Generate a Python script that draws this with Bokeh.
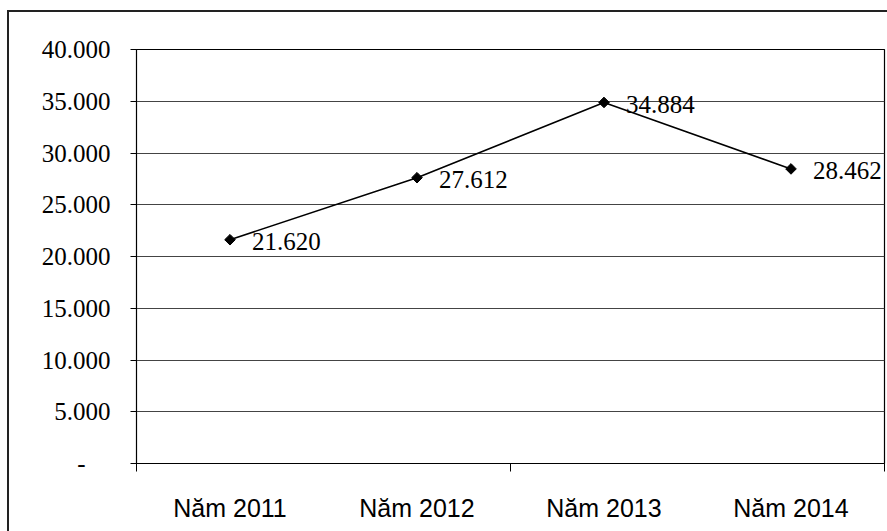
import math
from bokeh.plotting import figure
from bokeh.models import FixedTicker, Range1d, ColumnDataSource
from bokeh.core.properties import value
from bokeh.embed import file_html
from bokeh.resources import INLINE

# Data
years = ["Năm 2011", "Năm 2012", "Năm 2013", "Năm 2014"]
values = [21620, 27612, 34884, 28462]
value_labels = ["21.620", "27.612", "34.884", "28.462"]
y_ticks = [0, 5000, 10000, 15000, 20000, 25000, 30000, 35000, 40000]
y_tick_labels = ["-\u2007\u2007", "5.000", "10.000", "15.000", "20.000",
                 "25.000", "30.000", "35.000", "40.000"]

xpos = [i + 0.5 for i in range(len(years))]
src = ColumnDataSource(dict(x=xpos, y=values, lab=value_labels))

p = figure(width=878, height=519, output_backend="svg", toolbar_location=None,
           x_range=Range1d(0, len(years)), y_range=Range1d(0, 40000),
           min_border_left=127, min_border_top=37, min_border_bottom=68,
           min_border_right=3, margin=(12, 0, 0, 9))
p.styles = {"outline": "2px solid #222222", "outline-offset": "0px"}
p.background_fill_color = "white"
p.border_fill_color = "white"
p.outline_line_color = "black"
p.outline_line_width = 1.2

# Grid
p.xgrid.visible = False
p.ygrid.ticker = FixedTicker(ticks=y_ticks)
p.ygrid.grid_line_color = "#444444"
p.ygrid.grid_line_width = 1

# Y axis
p.yaxis.ticker = FixedTicker(ticks=y_ticks)
p.yaxis.major_label_overrides = {t: l for t, l in zip(y_ticks, y_tick_labels)}
p.yaxis.major_label_text_font = "Liberation Serif"
p.yaxis.major_label_text_font_size = "25px"
p.yaxis.major_label_text_color = "black"
p.yaxis.major_tick_out = 6
p.yaxis.major_tick_in = 0
p.yaxis.minor_tick_line_color = None
p.yaxis.axis_line_color = "black"
p.yaxis.major_tick_line_color = "black"
p.yaxis.major_label_standoff = 20

# X axis: labels at category centers, tick marks at some boundaries
p.xaxis.ticker = FixedTicker(ticks=xpos, minor_ticks=[0, 2, 4])
p.xaxis.major_label_overrides = {x: y for x, y in zip(xpos, years)}
p.xaxis.major_tick_line_color = None
p.xaxis.minor_tick_out = 8
p.xaxis.minor_tick_in = 0
p.xaxis.minor_tick_line_color = "black"
p.xaxis.axis_line_color = "black"
p.xaxis.major_label_text_font = "Liberation Sans"
p.xaxis.major_label_text_font_size = "25px"
p.xaxis.major_label_text_color = "black"
p.xaxis.major_label_standoff = 22

# Line and markers
p.line("x", "y", source=src, line_color="black", line_width=1.6)
p.scatter("x", "y", source=src, marker="square", angle=math.pi / 4, size=7.5,
          fill_color="black", line_color="black")
p.text("x", "y", text="lab", source=src, x_offset=22, y_offset=2,
       text_font=value("Liberation Serif"), text_font_size="25px",
       text_baseline="middle", text_align="left", text_color="black")

open("out.html", "w").write(file_html(p, INLINE))
